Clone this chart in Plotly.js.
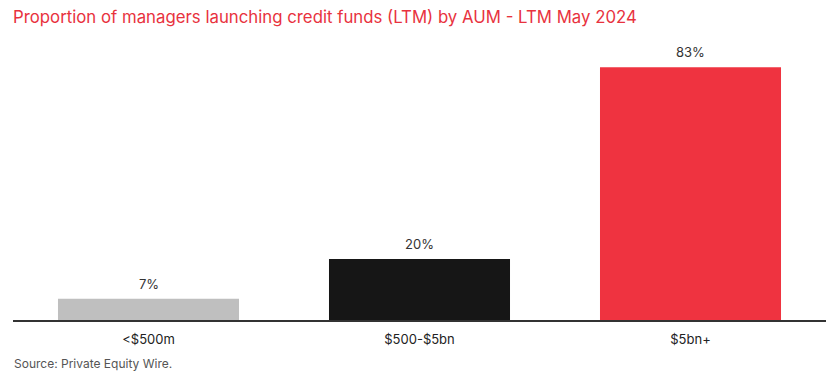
<!DOCTYPE html>
<html>
<head>
<meta charset="utf-8">
<script src="https://cdn.plot.ly/plotly-3.0.1.min.js"></script>
<style>html,body{margin:0;padding:0;background:#fff;}#chart{width:836px;height:381px;}</style>
</head>
<body>
<div id="chart"></div>
<script>
const categories = ["<$500m", "$500-$5bn", "$5bn+"];
const values = [7, 20, 83];
const barColors = ["#bfbfbf", "#161616", "#ef3340"];
const titleText = "Proportion of managers launching credit funds (LTM) by AUM - LTM May 2024";
const sourceText = "Source: Private Equity Wire.";

const trace = {
  type: "bar",
  x: categories,
  y: values,
  marker: {color: barColors, line: {width: 0}},
  hoverinfo: "none"
};

const layout = {
  width: 836, height: 381,
  margin: {l: 13, r: 10, t: 46, b: 61},
  paper_bgcolor: "#ffffff", plot_bgcolor: "#ffffff",
  bargap: 0.332,
  showlegend: false,
  font: {family: "Inter, Roboto, sans-serif", color: "#333333"},
  title: {
    text: titleText,
    x: 0, xanchor: "left", xref: "paper",
    y: 0.955, yanchor: "middle", yref: "container",
    font: {family: "Inter, Roboto, sans-serif", size: 16.8, color: "#e8323e"}
  },
  xaxis: {
    showline: true, linecolor: "#333333", linewidth: 1.5,
    ticks: "", showgrid: false, zeroline: false,
    ticklabelstandoff: 7,
    tickfont: {family: "Inter, Roboto, sans-serif", size: 13, color: "#222222"}
  },
  yaxis: {
    range: [0, 90], visible: false, showgrid: false, zeroline: false
  },
  annotations: categories.map((c, i) => ({
    x: c, y: values[i], xref: "x", yref: "y",
    text: values[i] + "%", showarrow: false,
    yanchor: "bottom", yshift: 5,
    font: {family: "Inter, Roboto, sans-serif", size: 13, color: "#333333"}
  })).concat([{
    text: sourceText, xref: "paper", yref: "paper",
    x: -0.001, y: -0.158, xanchor: "left", yanchor: "middle",
    showarrow: false,
    font: {family: "Inter, Roboto, sans-serif", size: 12, color: "#555555"}
  }])
};

Plotly.newPlot("chart", [trace], layout, {displayModeBar: false, staticPlot: true});
</script>
</body>
</html>
